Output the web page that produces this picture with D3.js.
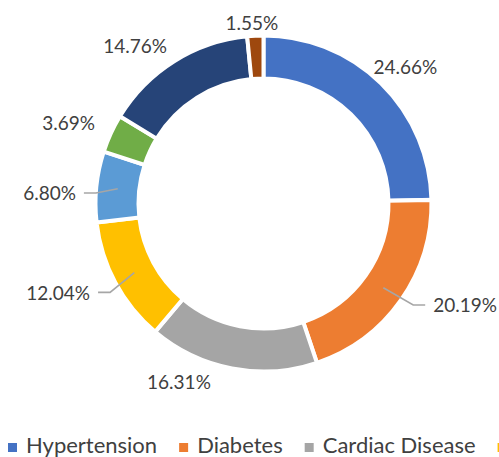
<!DOCTYPE html>
<html>
<head>
<meta charset="utf-8">
<script src="https://cdn.jsdelivr.net/npm/d3@7"></script>
<style>
  html, body { margin: 0; padding: 0; background: #fff; overflow: hidden; }
  svg { display: block; }
  text { font-family: Lato, "Open Sans", sans-serif; fill: #404040; }
</style>
</head>
<body>
<svg id="chart" width="499" height="457"></svg>
<script>
// ---- data ----
const categories = ["Hypertension", "Diabetes", "Cardiac Disease", "Stroke", "Kidney Disease", "Asthma", "Obesity", "Other"];
const values = [24.66, 20.19, 16.31, 12.04, 6.80, 3.69, 14.76, 1.55];
const labels = ["24.66%", "20.19%", "16.31%", "12.04%", "6.80%", "3.69%", "14.76%", "1.55%"];
const colors = ["#4472C4", "#ED7D31", "#A5A5A5", "#FFC000", "#5B9BD5", "#70AD47", "#264478", "#9E480E"];
// label nudges (px) relative to the mid-angle point at labelRadius; leader flag
const labelNudge = [[2, 7], [38, -13], [-47, -18], [-29, -5], [-15, 10], [-13, 3], [-22, 12], [-2, 20]];
const hasLeader = [false, true, false, true, true, false, false, false];

// ---- layout ----
const W = 499;
const svg = d3.select("#chart");
const cx = 263.5, cy = 203.5;
const outerR = 168, innerR = 125, labelR = 200;

const pie = d3.pie().sort(null).value(d => d)(values);
const arc = d3.arc().innerRadius(innerR).outerRadius(outerR);
const labelArc = d3.arc().innerRadius(labelR).outerRadius(labelR);

const g = svg.append("g").attr("transform", `translate(${cx},${cy})`);

g.selectAll("path.slice")
  .data(pie)
  .join("path")
  .attr("class", "slice")
  .attr("d", arc)
  .attr("fill", (d, i) => colors[i])
  .attr("stroke", "#fff")
  .attr("stroke-width", 4)
  .attr("stroke-linejoin", "miter");

// labels
const lab = g.selectAll("text.lbl")
  .data(pie)
  .join("text")
  .attr("class", "lbl")
  .attr("x", (d, i) => labelArc.centroid(d)[0] + labelNudge[i][0])
  .attr("y", (d, i) => labelArc.centroid(d)[1] + labelNudge[i][1])
  .attr("dy", "0.35em")
  .attr("text-anchor", "middle")
  .style("font-size", "19px")
  .text((d, i) => labels[i]);

// leader lines
lab.each(function(d, i) {
  if (!hasLeader[i]) return;
  const w = this.getComputedTextLength();
  const lx = labelArc.centroid(d)[0] + labelNudge[i][0];
  const ly = labelArc.centroid(d)[1] + labelNudge[i][1];
  const start = arc.centroid(d);
  const right = lx > 0;
  const endX = right ? lx - w / 2 - 8 : lx + w / 2 + 8;
  const elbowX = right ? endX - 12 : endX + 12;
  const y = ly - 0.5;
  g.insert("polyline", "text")
    .attr("points", [[start[0], start[1]], [elbowX, y], [endX, y]].map(p => p.join(",")).join(" "))
    .attr("fill", "none")
    .attr("stroke", "#A6A6A6")
    .attr("stroke-width", 1.6);
});

// legend (runs off the right edge like the original; entries past the edge are not drawn)
const legend = svg.append("g").attr("class", "legend");
let x = 8;
for (let i = 0; i < categories.length; i++) {
  if (x >= W) break;
  legend.append("rect")
    .attr("x", x).attr("y", 443)
    .attr("width", 9).attr("height", 9)
    .attr("fill", colors[i]);
  if (x + 18 >= W - 10) break;
  const t = legend.append("text")
    .attr("x", x + 18).attr("y", 453)
    .style("font-size", "22px")
    .text(categories[i]);
  const w = t.node().getComputedTextLength();
  if (x + 18 + w > W) { t.remove(); break; }
  x += 18 + w + 22;
}
</script>
</body>
</html>
